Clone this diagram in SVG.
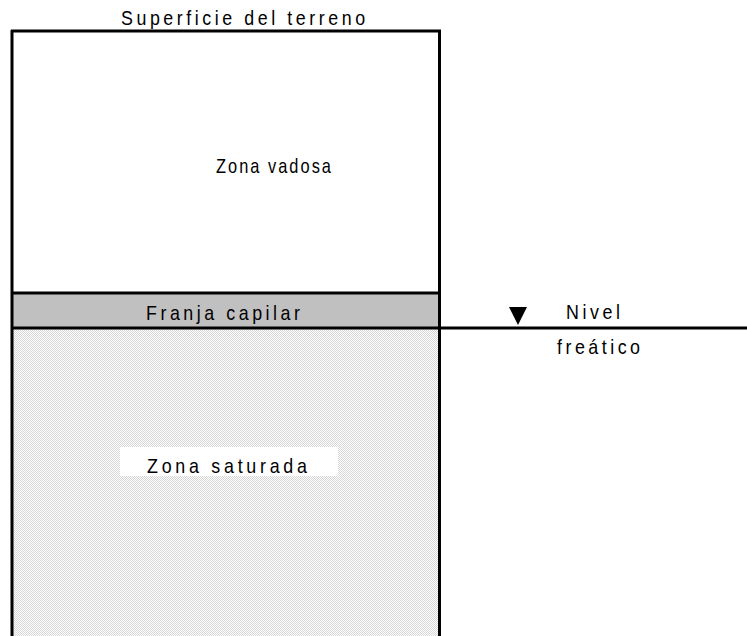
<svg xmlns="http://www.w3.org/2000/svg" width="747" height="636" viewBox="0 0 747 636">
<defs>
<pattern id="dots" width="2" height="2" patternUnits="userSpaceOnUse">
<rect width="2" height="2" fill="#ffffff"/>
<rect x="0" y="0" width="1" height="1" fill="#d6d6d6"/>
<rect x="1" y="1" width="1" height="1" fill="#d6d6d6"/>
</pattern>
<style>
.t{font-family:"Liberation Sans",Arial,sans-serif;font-size:21px;fill:#000}
.ln{stroke:#000;stroke-width:3;fill:none}
</style>
</defs>
<rect width="747" height="636" fill="#fff"/>
<g id="zona-saturada">
<rect x="12" y="328" width="427" height="308" fill="url(#dots)"/>
<rect x="120" y="447" width="218" height="29" fill="#fff"/>
<text class="t" x="147" y="473" letter-spacing="4.4" textLength="163.7" lengthAdjust="spacingAndGlyphs">Zona saturada</text>
</g>
<g id="franja-capilar">
<rect x="12" y="293" width="427" height="35" fill="#c0c0c0"/>
<text class="t" x="146" y="320" letter-spacing="4.15" textLength="157.5" lengthAdjust="spacingAndGlyphs">Franja capilar</text>
</g>
<g id="zona-vadosa">
<text class="t" x="216" y="173" letter-spacing="2.6" textLength="117" lengthAdjust="spacingAndGlyphs">Zona vadosa</text>
</g>
<g id="superficie">
<text class="t" x="121" y="25" letter-spacing="4.2" textLength="247.6" lengthAdjust="spacingAndGlyphs">Superficie del terreno</text>
</g>
<g id="connectors">
<line class="ln" x1="11" y1="31" x2="441" y2="31" stroke-width="2"/>
<line class="ln" x1="12" y1="30" x2="12" y2="636"/>
<line class="ln" x1="439.5" y1="30" x2="439.5" y2="636"/>
<line class="ln" x1="12" y1="293" x2="441" y2="293" stroke-width="2"/>
<line class="ln" x1="12" y1="328" x2="747" y2="328"/>
</g>
<g id="nivel-freatico">
<polygon points="509,307 527,307 518,325" fill="#000"/>
<text class="t" x="566" y="319" letter-spacing="4.2" textLength="57.6" lengthAdjust="spacingAndGlyphs">Nivel</text>
<text class="t" x="557" y="354" letter-spacing="4.1" textLength="86.5" lengthAdjust="spacingAndGlyphs">freático</text>
</g>
</svg>
